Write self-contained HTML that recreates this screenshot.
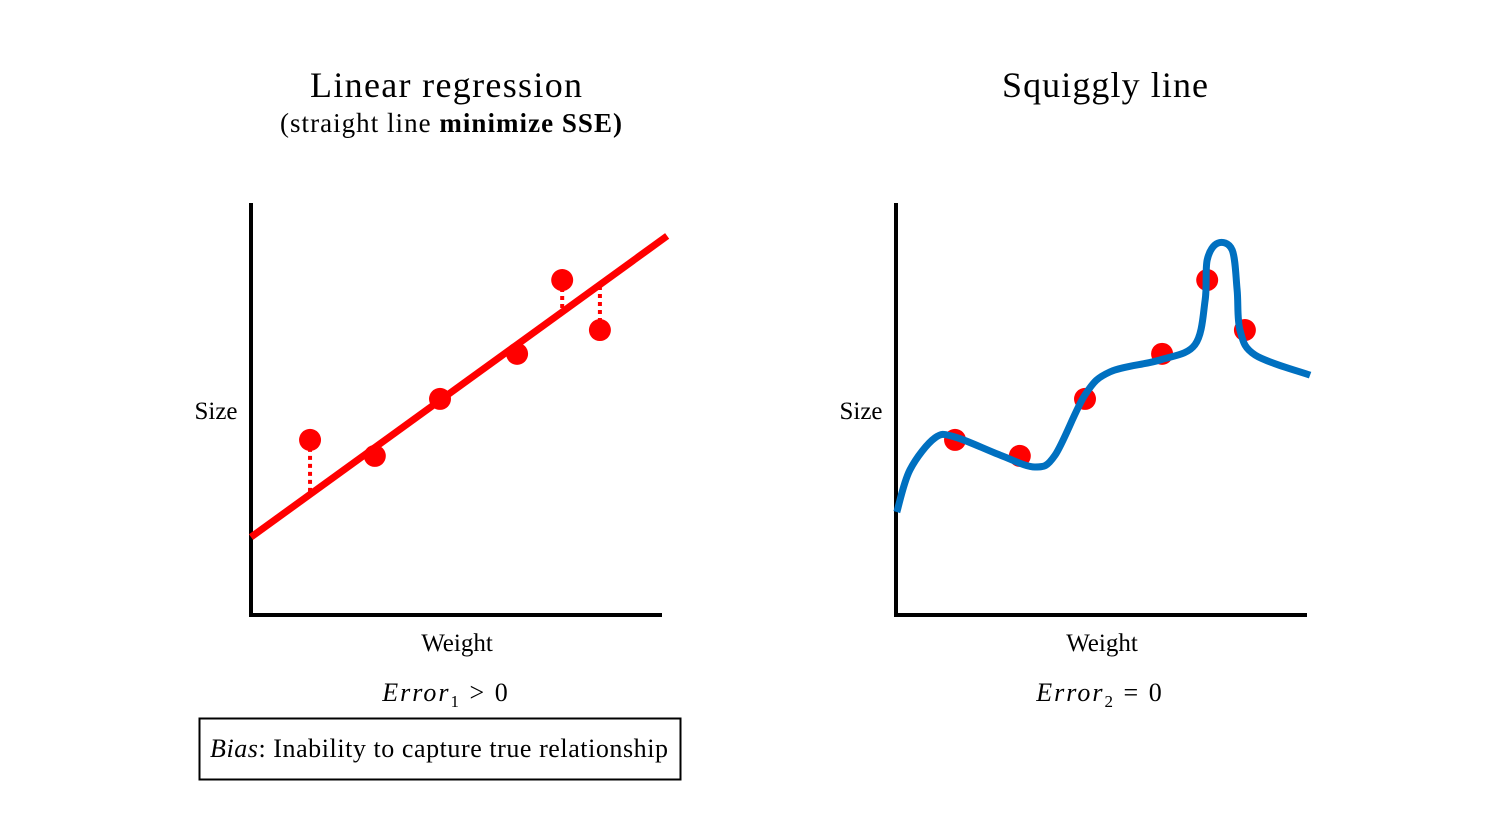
<!DOCTYPE html>
<html><head><meta charset="utf-8"><style>
body{margin:0;background:#fff;width:1500px;height:810px;overflow:hidden}
svg text{font-family:"Liberation Serif",serif;fill:#000}
</style></head><body>
<svg width="1500" height="810" viewBox="0 0 1500 810">
<text x="446" y="97" font-size="36" text-anchor="middle" textLength="272">Linear regression</text>
<text x="451" y="132" font-size="27" text-anchor="middle" textLength="342">(straight line <tspan font-weight="bold">minimize SSE)</tspan></text>
<text x="1105" y="97" font-size="36" text-anchor="middle" textLength="206">Squiggly line</text>
<g id="left"></g>
<g id="right"></g>
<text x="216" y="419" font-size="25" text-anchor="middle">Size</text>
<text x="457" y="651" font-size="25" text-anchor="middle">Weight</text>
<text x="861" y="419" font-size="25" text-anchor="middle">Size</text>
<text x="1102" y="651" font-size="25" text-anchor="middle">Weight</text>
<text x="446" y="701" font-size="26" text-anchor="middle" letter-spacing="2"><tspan font-style="italic">Error</tspan><tspan font-size="17" dy="6">1</tspan><tspan dy="-6"> &gt; 0</tspan></text>
<text x="1100" y="701" font-size="26" text-anchor="middle" letter-spacing="2"><tspan font-style="italic">Error</tspan><tspan font-size="17" dy="6">2</tspan><tspan dy="-6"> = 0</tspan></text>
<rect x="199.5" y="718.5" width="481" height="61" fill="none" stroke="#000" stroke-width="2"/>
<text x="439" y="757" font-size="26" text-anchor="middle" textLength="458"><tspan font-style="italic">Bias</tspan>: Inability to capture true relationship</text>
</svg>
<script>
const weights=[1.44,3.02,4.61,6.49,7.59,8.51];
const sizes=[4.27,3.88,5.27,6.37,8.17,6.95];
const lineIntercept=1.90, lineSlope=0.7236, lineXMax=10.15;
const curveX=[0.02,0.34,0.95,1.44,2.54,3.39,3.88,4.61,5.22,6.44,7.29,7.54,7.59,7.85,8.20,8.32,8.39,8.76,10.10];
const curveY=[2.51,3.54,4.32,4.34,3.90,3.61,3.90,5.37,5.93,6.22,6.59,7.68,8.66,9.07,8.90,7.93,6.95,6.34,5.85];
const NS='http://www.w3.org/2000/svg';
function mk(p,tag,a){const e=document.createElementNS(NS,tag);for(const k in a)e.setAttribute(k,a[k]);p.appendChild(e);return e;}
function draw(g,ox){
  const sx=v=>ox+v*41, sy=v=>615-v*41;
  const ya=mk(g,'line',{x1:ox,y1:203,x2:ox,y2:617,stroke:'#000','stroke-width':4});
  
  
  const xa=mk(g,'line',{x1:ox-2,y1:615,x2:ox+411,y2:615,stroke:'#000','stroke-width':4});
  
  
  return {sx,sy};
}
const L=draw(document.getElementById('left'),251);
const gl=document.getElementById('left');
const rl=mk(gl,'line',{x1:L.sx(0),y1:L.sy(lineIntercept),x2:L.sx(lineXMax),y2:L.sy(lineIntercept+lineSlope*lineXMax),stroke:'#ff0000','stroke-width':7});


weights.forEach((w,i)=>{
  const fy=lineIntercept+lineSlope*w;
  if(Math.abs(fy-sizes[i])>0.4){
    const r=mk(gl,'line',{x1:L.sx(w),y1:L.sy(sizes[i]),x2:L.sx(w),y2:L.sy(fy),stroke:'#ff0000','stroke-width':4,'stroke-dasharray':'4 4'});
    
    
  }
  const c=mk(gl,'circle',{cx:L.sx(w),cy:L.sy(sizes[i]),r:11,fill:'#ff0000'});
  
  
});
const gr=document.getElementById('right');
const R=draw(gr,896);
weights.forEach((w,i)=>{
  const c=mk(gr,'circle',{cx:R.sx(w),cy:R.sy(sizes[i]),r:11,fill:'#ff0000'});
  
  
});
const P=curveX.map((x,i)=>[R.sx(x),R.sy(curveY[i])]);
let d='M'+P[0][0]+','+P[0][1];
for(let i=0;i<P.length-1;i++){
  const p0=P[Math.max(0,i-1)],p1=P[i],p2=P[i+1],p3=P[Math.min(P.length-1,i+2)];
  const c1=[p1[0]+(p2[0]-p0[0])/6,p1[1]+(p2[1]-p0[1])/6];
  const c2=[p2[0]-(p3[0]-p1[0])/6,p2[1]-(p3[1]-p1[1])/6];
  d+=` C${c1[0]},${c1[1]} ${c2[0]},${c2[1]} ${p2[0]},${p2[1]}`;
}
const sq=mk(gr,'path',{d:d,fill:'none',stroke:'#0070c0','stroke-width':7,'stroke-linecap':'butt'});


</script>
</body></html>
